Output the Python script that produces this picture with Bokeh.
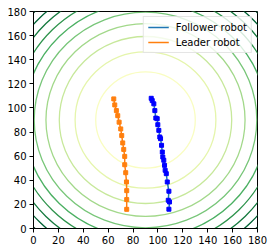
import numpy as np
from bokeh.plotting import figure
from bokeh.models import Range1d, FixedTicker, Legend, LegendItem
from bokeh.embed import file_html
from bokeh.resources import INLINE

# ---- data ----
center_x = 90
center_y = 90
contour_levels = [1600, 3200, 4800, 6400, 8000, 9600, 11200, 12800, 14400, 16000]  # squared distance from centre

leader_x = [64.5, 65.3, 66.6, 67.7, 68.8, 70.1, 70.9, 71.7, 72.5, 73.3, 73.3, 74.1, 74.7, 74.9, 74.9, 74.9]
leader_y = [107.5, 102.5, 97.8, 93.6, 88.2, 82.6, 77.1, 71.0, 65.6, 59.8, 52.9, 46.3, 38.6, 31.4, 24.0, 15.9]

follower_x = [94.6, 95.4, 96.7, 97.5, 98.3, 99.4, 99.9, 100.7, 101.5, 102.1, 102.9, 103.5, 103.9,
              104.7, 105.3, 105.8, 106.7, 107.5, 108.8, 108.3, 109.3, 108.8]
follower_y = [108.0, 106.1, 103.4, 97.8, 91.6, 91.1, 86.1, 81.4, 75.9, 74.5, 69.0, 63.4, 59.3,
              56.6, 52.4, 48.3, 45.5, 38.6, 30.9, 23.4, 22.0, 16.0]

ticks = [0, 20, 40, 60, 80, 100, 120, 140, 160, 180]

# YlGn colormap anchors (low -> high)
ylgn = ["#ffffe5", "#f7fcb9", "#d9f0a3", "#addd8e", "#78c679", "#41ab5d", "#238443", "#006837", "#004529"]


def cmap(t):
    pos = t * (len(ylgn) - 1)
    i = min(int(np.floor(pos)), len(ylgn) - 2)
    f = pos - i
    a = [int(ylgn[i][j:j + 2], 16) for j in (1, 3, 5)]
    b = [int(ylgn[i + 1][j:j + 2], 16) for j in (1, 3, 5)]
    c = [round(a[k] + (b[k] - a[k]) * f) for k in range(3)]
    return "#%02x%02x%02x" % tuple(c)


lev = np.array(contour_levels, dtype=float)
radii = np.sqrt(lev)
colors = [cmap(v / lev.max()) for v in lev]

p = figure(width=273, height=252, output_backend="svg", toolbar_location=None,
           x_range=Range1d(0, 180), y_range=Range1d(0, 180),
           min_border_left=33, min_border_right=16, min_border_top=11, min_border_bottom=24)
p.background_fill_color = "white"
p.border_fill_color = "white"
p.outline_line_color = "black"
p.outline_line_width = 1
p.xgrid.visible = False
p.ygrid.visible = False

for ax in (p.xaxis, p.yaxis):
    ax.ticker = FixedTicker(ticks=ticks)
    ax.minor_tick_line_color = None
    ax.major_tick_in = 0
    ax.major_tick_out = 4
    ax.major_tick_line_color = "black"
    ax.axis_line_color = "black"
    ax.major_label_text_color = "black"
    ax.major_label_text_font = "DejaVu Sans"
    ax.major_label_text_font_size = "10px"
p.yaxis.major_label_standoff = 3
p.xaxis.major_label_standoff = 3

# contour lines (circles of constant squared distance)
p.ellipse(x=[center_x] * len(radii), y=[center_y] * len(radii), width=2 * radii, height=2 * radii,
          fill_color=None, line_color=colors, line_width=1.3)

# trajectories
r_f = p.line(follower_x, follower_y, line_color="#1f77b4", line_width=1.5)
p.scatter(follower_x, follower_y, marker="square", size=4, fill_color="#0000ff", line_color="#0000ff")
r_l = p.line(leader_x, leader_y, line_color="#ff7f0e", line_width=1.5)
p.scatter(leader_x, leader_y, marker="square", size=4, fill_color="#ff7f0e", line_color="#ff7f0e")

legend = Legend(items=[LegendItem(label="Follower robot", renderers=[r_f]),
                       LegendItem(label="Leader robot", renderers=[r_l])],
                location="top_right")
legend.label_text_font = "DejaVu Sans"
legend.label_text_font_size = "10px"
legend.label_text_color = "black"
legend.label_height = 12
legend.glyph_height = 12
legend.glyph_width = 21
legend.label_standoff = 7
legend.spacing = 3
legend.padding = 4
legend.margin = 5
legend.border_line_color = "#cccccc"
legend.background_fill_alpha = 0.8
p.add_layout(legend)

open("out.html", "w").write(file_html(p, INLINE))
